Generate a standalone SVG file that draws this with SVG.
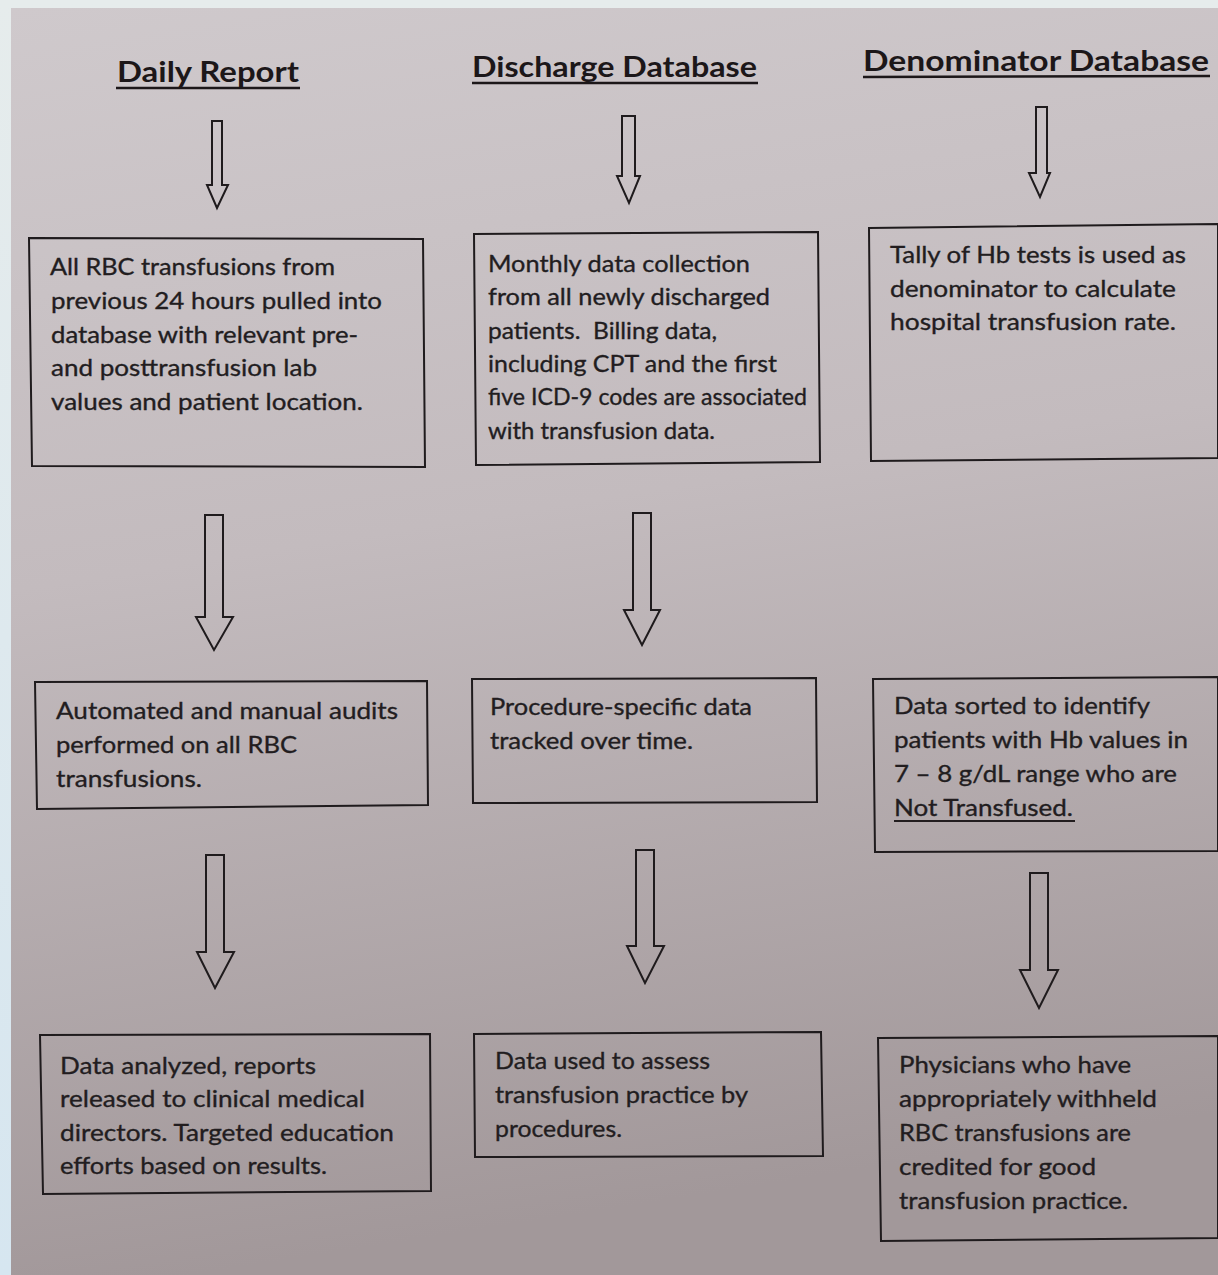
<svg xmlns="http://www.w3.org/2000/svg" width="1218" height="1275" viewBox="0 0 1218 1275">
<defs>
<linearGradient id="bgL" x1="0" y1="0" x2="0" y2="1"><stop offset="0" stop-color="#e6ecec"/><stop offset="1" stop-color="#d6e6f0"/></linearGradient>
<linearGradient id="paper" x1="0" y1="0" x2="0.15" y2="1"><stop offset="0" stop-color="#cfc9cc"/><stop offset="0.45" stop-color="#c3bbbe"/><stop offset="1" stop-color="#a2989a"/></linearGradient>
<style>
.box{fill:none;stroke:#1f1b1d;stroke-width:2}
.arr{fill:none;stroke:#1f1b1d;stroke-width:2;stroke-linejoin:miter}
.t{font-family:Lato,"Liberation Sans",sans-serif;font-size:24px;fill:#221d1f;stroke:#221d1f;stroke-width:0.35}
.h{font-family:Lato,"Liberation Sans",sans-serif;font-size:29px;font-weight:bold;fill:#1c1719}
.u{stroke:#1c1719;stroke-width:2.5}
.u2{stroke:#221d1f;stroke-width:1.8}
.pre{white-space:pre}
</style>
</defs>
<rect x="0" y="0" width="1218" height="1275" fill="url(#bgL)"/>
<rect x="11" y="8" width="1207" height="1267" fill="url(#paper)"/>

<g id="headers">
<text class="h" x="117" y="82" textLength="182" lengthAdjust="spacingAndGlyphs">Daily Report</text>
<line class="u" x1="116" y1="88" x2="300" y2="88"/>
<text class="h" x="472" y="77" textLength="285" lengthAdjust="spacingAndGlyphs">Discharge Database</text>
<line class="u" x1="472" y1="83" x2="758" y2="83"/>
<text class="h" x="863" y="71" textLength="346" lengthAdjust="spacingAndGlyphs">Denominator Database</text>
<line class="u" x1="863" y1="77" x2="1210" y2="76"/>
</g>

<g id="connectors">
<path class="arr" d="M212 121 H222 V185 H228 L217 208 L207 185 H212 Z"/>
<path class="arr" d="M205 515 H223 V617 H233 L214 650 L196 617 H205 Z"/>
<path class="arr" d="M206 855 H224 V952 H234 L215 988 L197 952 H206 Z"/>
<path class="arr" d="M622 116 H635 V176 H640 L629 203 L617 176 H622 Z"/>
<path class="arr" d="M633 513 H651 V610 H660 L642 645 L624 610 H633 Z"/>
<path class="arr" d="M636 850 H654 V946 H664 L645 983 L627 946 H636 Z"/>
<path class="arr" d="M1036 107 H1047 V173 H1050 L1040 197 L1029 173 H1036 Z"/>
<path class="arr" d="M1030 873 H1048 V970 H1058 L1039 1008 L1020 970 H1030 Z"/>
</g>

<g id="n1"><path class="box" d="M29 238 L423 239 L425 467 L32 466 Z"/>
<text class="t" x="50" y="275" textLength="285" lengthAdjust="spacingAndGlyphs">All RBC transfusions from</text>
<text class="t" x="51" y="309" textLength="331" lengthAdjust="spacingAndGlyphs">previous 24 hours pulled into</text>
<text class="t" x="51" y="343" textLength="307" lengthAdjust="spacingAndGlyphs">database with relevant pre-</text>
<text class="t" x="51" y="376" textLength="266" lengthAdjust="spacingAndGlyphs">and posttransfusion lab</text>
<text class="t" x="51" y="410" textLength="312" lengthAdjust="spacingAndGlyphs">values and patient location.</text></g>

<g id="n2"><path class="box" d="M474 234 L818 232 L820 462 L476 465 Z"/>
<text class="t" x="488" y="272" textLength="262" lengthAdjust="spacingAndGlyphs">Monthly data collection</text>
<text class="t" x="488" y="305" textLength="282" lengthAdjust="spacingAndGlyphs">from all newly discharged</text>
<text class="t pre" x="488" y="339" textLength="229" lengthAdjust="spacingAndGlyphs">patients.  Billing data,</text>
<text class="t" x="488" y="372" textLength="289" lengthAdjust="spacingAndGlyphs">including CPT and the first</text>
<text class="t" x="488" y="405" textLength="319" lengthAdjust="spacingAndGlyphs">five ICD-9 codes are associated</text>
<text class="t" x="488" y="439" textLength="227" lengthAdjust="spacingAndGlyphs">with transfusion data.</text></g>

<g id="n3"><path class="box" d="M869 228 L1218 224 L1218 458 L871 461 Z"/>
<text class="t" x="890" y="263" textLength="296" lengthAdjust="spacingAndGlyphs">Tally of Hb tests is used as</text>
<text class="t" x="890" y="297" textLength="286" lengthAdjust="spacingAndGlyphs">denominator to calculate</text>
<text class="t" x="890" y="330" textLength="286" lengthAdjust="spacingAndGlyphs">hospital transfusion rate.</text></g>

<g id="n4"><path class="box" d="M35 682 L427 681 L428 805 L37 809 Z"/>
<text class="t" x="56" y="719" textLength="342" lengthAdjust="spacingAndGlyphs">Automated and manual audits</text>
<text class="t" x="56" y="753" textLength="241" lengthAdjust="spacingAndGlyphs">performed on all RBC</text>
<text class="t" x="56" y="787" textLength="146" lengthAdjust="spacingAndGlyphs">transfusions.</text></g>

<g id="n5"><path class="box" d="M472 679 L816 678 L817 802 L473 803 Z"/>
<text class="t" x="490" y="715" textLength="262" lengthAdjust="spacingAndGlyphs">Procedure-specific data</text>
<text class="t" x="490" y="749" textLength="203" lengthAdjust="spacingAndGlyphs">tracked over time.</text></g>

<g id="n6"><path class="box" d="M873 679 L1218 677 L1218 851 L875 852 Z"/>
<text class="t" x="894" y="714" textLength="256" lengthAdjust="spacingAndGlyphs">Data sorted to identify</text>
<text class="t" x="894" y="748" textLength="294" lengthAdjust="spacingAndGlyphs">patients with Hb values in</text>
<text class="t" x="894" y="782" textLength="283" lengthAdjust="spacingAndGlyphs">7 – 8 g/dL range who are</text>
<text class="t" x="894" y="816" textLength="179" lengthAdjust="spacingAndGlyphs">Not Transfused.</text>
<line class="u2" x1="894" y1="821" x2="1075" y2="821"/></g>

<g id="n7"><path class="box" d="M40 1035 L430 1034 L431 1191 L43 1194 Z"/>
<text class="t" x="60" y="1074" textLength="256" lengthAdjust="spacingAndGlyphs">Data analyzed, reports</text>
<text class="t" x="60" y="1107" textLength="305" lengthAdjust="spacingAndGlyphs">released to clinical medical</text>
<text class="t" x="60" y="1141" textLength="334" lengthAdjust="spacingAndGlyphs">directors. Targeted education</text>
<text class="t" x="60" y="1174" textLength="267" lengthAdjust="spacingAndGlyphs">efforts based on results.</text></g>

<g id="n8"><path class="box" d="M474 1034 L821 1032 L823 1156 L475 1157 Z"/>
<text class="t" x="495" y="1069" textLength="215" lengthAdjust="spacingAndGlyphs">Data used to assess</text>
<text class="t" x="495" y="1103" textLength="253" lengthAdjust="spacingAndGlyphs">transfusion practice by</text>
<text class="t" x="495" y="1137" textLength="127" lengthAdjust="spacingAndGlyphs">procedures.</text></g>

<g id="n9"><path class="box" d="M878 1038 L1218 1036 L1218 1238 L881 1241 Z"/>
<text class="t" x="899" y="1073" textLength="232" lengthAdjust="spacingAndGlyphs">Physicians who have</text>
<text class="t" x="899" y="1107" textLength="258" lengthAdjust="spacingAndGlyphs">appropriately withheld</text>
<text class="t" x="899" y="1141" textLength="232" lengthAdjust="spacingAndGlyphs">RBC transfusions are</text>
<text class="t" x="899" y="1175" textLength="197" lengthAdjust="spacingAndGlyphs">credited for good</text>
<text class="t" x="899" y="1209" textLength="229" lengthAdjust="spacingAndGlyphs">transfusion practice.</text></g>
</svg>
